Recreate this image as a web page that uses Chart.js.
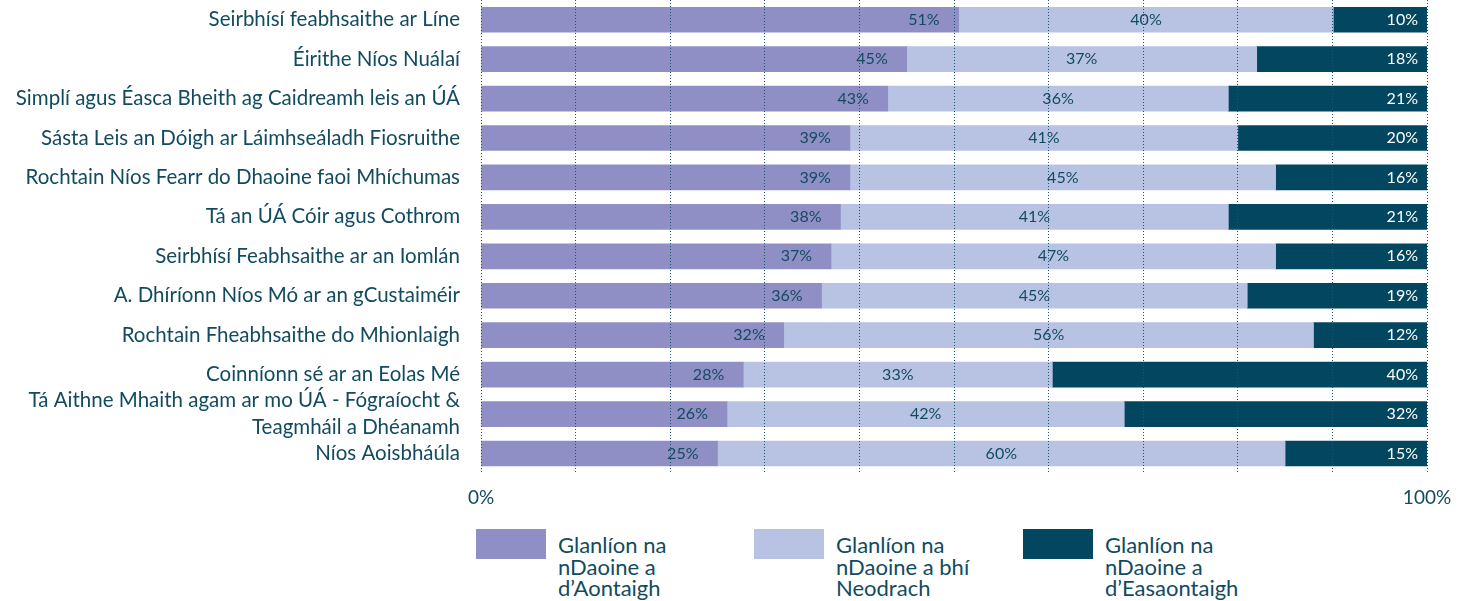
<!DOCTYPE html>
<html>
<head>
<meta charset="utf-8">
<script src="https://cdn.jsdelivr.net/npm/chart.js@4/dist/chart.umd.min.js"></script>
<style>
  body { margin: 0; background: #fff; font-family: Lato, "Open Sans", sans-serif; }
  #wrap { position: relative; width: 1465px; height: 601px; }
  #chart { position: absolute; left: 0; top: 0; }
  .leg { position: absolute; top: 529px; display: flex; color: #124b60; font-size: 22px; line-height: 21.5px; }
  .leg .box { width: 70px; height: 30px; margin-right: 12px; flex: none; }
  .leg .txt { margin-top: 5px; }
</style>
</head>
<body>
<div id="wrap">
  <canvas id="chart" width="1465" height="522"></canvas>
  <div id="legend"></div>
</div>
<script>
var categories = [
  'Seirbhísí feabhsaithe ar Líne',
  'Éirithe Níos Nuálaí',
  'Simplí agus Éasca Bheith ag Caidreamh leis an ÚÁ',
  'Sásta Leis an Dóigh ar Láimhseáladh Fiosruithe',
  'Rochtain Níos Fearr do Dhaoine faoi Mhíchumas',
  'Tá an ÚÁ Cóir agus Cothrom',
  'Seirbhísí Feabhsaithe ar an Iomlán',
  'A. Dhíríonn Níos Mó ar an gCustaiméir',
  'Rochtain Fheabhsaithe do Mhionlaigh',
  'Coinníonn sé ar an Eolas Mé',
  ['Tá Aithne Mhaith agam ar mo ÚÁ - Fógraíocht &', 'Teagmháil a Dhéanamh'],
  'Níos Aoisbháúla'
];
var agree    = [51, 45, 43, 39, 39, 38, 37, 36, 32, 28, 26, 25];
var neutral  = [40, 37, 36, 41, 45, 41, 47, 45, 56, 33, 42, 60];
var disagree = [10, 18, 21, 20, 16, 21, 16, 19, 12, 40, 32, 15];
var seriesNames = [
  ['Glanlíon na', 'nDaoine a', 'd\u2019Aontaigh'],
  ['Glanlíon na', 'nDaoine a bhí', 'Neodrach'],
  ['Glanlíon na', 'nDaoine a', 'd\u2019Easaontaigh']
];
var colors = ['#8f8fc5', '#b8c3e4', '#02475f'];
var textColor = '#124b60';

var raw = [agree, neutral, disagree];
// each row is drawn as a share of its own total so the bars fill 0-100
var shares = raw.map(function (arr) {
  return arr.map(function (v, i) {
    return v / (agree[i] + neutral[i] + disagree[i]) * 100;
  });
});

var barLabels = {
  id: 'barLabels',
  afterDatasetsDraw: function (chart) {
    var ctx = chart.ctx;
    ctx.save();
    ctx.font = '16px Lato, "Open Sans", sans-serif';
    ctx.textBaseline = 'middle';
    chart.data.datasets.forEach(function (ds, di) {
      chart.getDatasetMeta(di).data.forEach(function (el, i) {
        var txt = raw[di][i] + '%';
        if (di === 0) {
          ctx.textAlign = 'right';
          ctx.fillStyle = textColor;
          ctx.fillText(txt, el.x - 19, el.y);
        } else if (di === 1) {
          ctx.textAlign = 'center';
          ctx.fillStyle = textColor;
          ctx.fillText(txt, (el.x + el.base) / 2, el.y);
        } else {
          ctx.textAlign = 'right';
          ctx.fillStyle = '#ffffff';
          ctx.fillText(txt, el.x - 9, el.y);
        }
      });
    });
    ctx.restore();
  }
};

new Chart(document.getElementById('chart'), {
  type: 'bar',
  data: {
    labels: categories,
    datasets: raw.map(function (arr, di) {
      return {
        label: seriesNames[di].join(' '),
        data: shares[di],
        backgroundColor: colors[di],
        borderWidth: 0,
        barThickness: 25
      };
    })
  },
  options: {
    indexAxis: 'y',
    responsive: false,
    animation: false,
    layout: { padding: { top: 0, right: 38, left: 0, bottom: 0 } },
    scales: {
      x: {
        stacked: true,
        min: 0,
        max: 100,
        grid: {
          z: 1,
          color: '#1d5570',
          lineWidth: 1,
          drawTicks: false
        },
        border: { display: false, dash: [1, 2] },
        ticks: {
          stepSize: 10,
          padding: 13,
          color: textColor,
          font: { family: 'Lato, "Open Sans", sans-serif', size: 19 },
          callback: function (v) {
            return (v === 0 || v === 100) ? v + '%' : '';
          }
        }
      },
      y: {
        stacked: true,
        grid: { display: false },
        border: { display: false },
        ticks: {
          autoSkip: false,
          padding: 13,
          color: textColor,
          font: { family: 'Lato, "Open Sans", sans-serif', size: 20.5, lineHeight: 1.3 }
        },
        afterFit: function (scale) {
          scale.width = 481;
          scale.paddingTop = 0;
          scale.paddingBottom = 0;
        }
      }
    },
    plugins: {
      legend: { display: false },
      tooltip: { enabled: false }
    }
  },
  plugins: [barLabels]
});

var legendLeft = [476, 754, 1023];
var legend = document.getElementById('legend');
seriesNames.forEach(function (name, i) {
  var item = document.createElement('div');
  item.className = 'leg';
  item.style.left = legendLeft[i] + 'px';
  item.innerHTML = '<div class="box" style="background:' + colors[i] + '"></div>' +
    '<div class="txt">' + name.join('<br>') + '</div>';
  legend.appendChild(item);
});
</script>
</body>
</html>
